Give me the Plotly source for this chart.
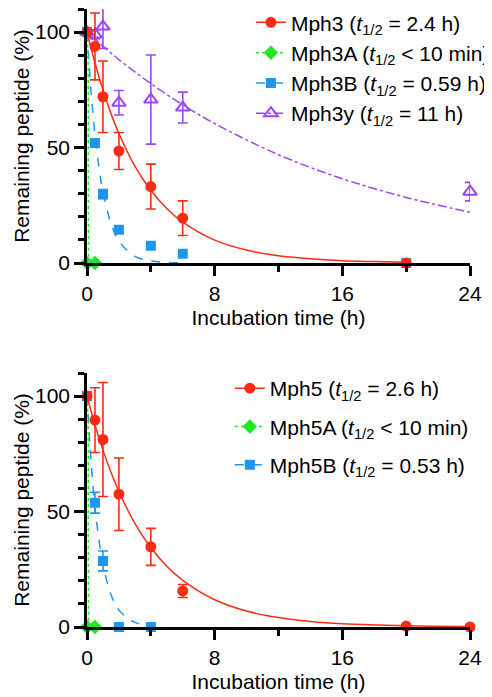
import plotly.graph_objects as go

# ---- top panel (Mph3 family) ----
t3 = [0, 0.5, 1, 2, 4, 6, 20]
mph3 = [100, 93.8, 72, 48.5, 33.1, 19.4, 0]
mph3_err = [0, 14.5, 15.5, 8, 9.7, 7.5, 0]
mph3a_t = [0, 0.5]
mph3a = [0, 0]
mph3b = [100, 52, 29.8, 14.4, 7.5, 4, 0]
mph3b_err = [0, 0, 2, 0, 0, 0, 0]
t3y = [0, 0.5, 1, 2, 4, 6, 24]
mph3y = [100, 99, 102.4, 69.4, 70.8, 67.3, 30.9]
mph3y_err = [1, 2, 9.5, 5.3, 19.3, 6.7, 4]

# fitted curves
fit3_t = [0, 0.5, 1, 1.5, 2, 3, 4, 5, 6, 8, 10, 12, 14, 16, 18, 20]
fit3 = [100, 86.6, 74.9, 64.8, 56.1, 42.0, 31.5, 23.6, 17.7, 9.9, 5.6, 3.1, 1.8, 1.0, 0.6, 0.3]
fit3a_t = [0, 0.06, 0.08, 0.1]
fit3a = [100, 90, 40, 0]
fit3b_t = [0, 0.25, 0.5, 0.75, 1, 1.5, 2, 3, 4, 5, 6]
fit3b = [100, 74.5, 55.6, 41.4, 30.9, 17.2, 9.5, 2.9, 0.9, 0.3, 0.1]
fit3y_t = [0, 2, 4, 6, 8, 12, 16, 20, 24]
fit3y = [100, 88.1, 77.7, 68.5, 60.4, 46.9, 36.5, 28.4, 22.0]

# ---- bottom panel (Mph5 family) ----
t5 = [0, 0.5, 1, 2, 4, 6, 20, 24]
mph5 = [100, 89.6, 81.2, 57.5, 34.7, 15.6, 0.4, 0]
mph5_err = [0, 14, 24.7, 15.7, 8, 2.8, 0, 0]
mph5a_t = [0, 0.5]
mph5a = [0, 0]
t5b = [0, 0.5, 1, 2, 4]
mph5b = [100, 53.8, 28.6, 0, 0]
mph5b_err = [0, 4.5, 4.3, 0, 0]

fit5_t = [0, 0.5, 1, 1.5, 2, 3, 4, 5, 6, 8, 10, 12, 14, 16, 20, 24]
fit5 = [100, 87.5, 76.6, 67.1, 58.7, 44.9, 34.4, 26.3, 20.2, 11.8, 6.9, 4.1, 2.4, 1.4, 0.5, 0.2]
fit5a_t = [0, 0.06, 0.08, 0.1]
fit5a = [100, 90, 40, 0]
fit5b_t = [0, 0.25, 0.5, 0.75, 1, 1.5, 2, 3, 4]
fit5b = [100, 72.1, 52.0, 37.5, 27.1, 14.1, 7.3, 2.0, 0.5]

names_top = ["Mph3 (<i>t</i><sub>1/2</sub> = 2.4 h)",
             "Mph3A (<i>t</i><sub>1/2</sub> < 10 min)",
             "Mph3B (<i>t</i><sub>1/2</sub> = 0.59 h)",
             "Mph3y (<i>t</i><sub>1/2</sub> = 11 h)"]
names_bot = ["Mph5 (<i>t</i><sub>1/2</sub> = 2.6 h)",
             "Mph5A (<i>t</i><sub>1/2</sub> < 10 min)",
             "Mph5B (<i>t</i><sub>1/2</sub> = 0.53 h)"]

RED = "#FF2A14"
GREEN = "#1EE81E"
BLUE = "#1E96F0"
PURPLE = "#9B45F5"

styles = {
    "red": dict(color=RED, dash="solid", symbol="circle", size=9),
    "green": dict(color=GREEN, dash="dot", symbol="diamond", size=9),
    "blue": dict(color=BLUE, dash="dash", symbol="square", size=8),
    "purple": dict(color=PURPLE, dash="dashdot", symbol="triangle-up-open", size=12),
}

fig = go.Figure()


def add_series(x, y, err, fx, fy, st, name, rank, xa, ya, legend, group):
    s = styles[st]
    fig.add_trace(go.Scatter(x=fx, y=fy, mode="lines", xaxis=xa, yaxis=ya,
                             line=dict(color=s["color"], dash=s["dash"], width=1.5, shape="spline"),
                             showlegend=False, hoverinfo="skip"))
    ey = None
    if err is not None:
        ey = dict(type="data", array=err, visible=True, color=s["color"], thickness=1.6, width=5)
    fig.add_trace(go.Scatter(x=x, y=y, mode="markers", xaxis=xa, yaxis=ya, error_y=ey,
                             marker=dict(color=s["color"], symbol=s["symbol"], size=s["size"],
                                         line=dict(color=s["color"], width=2)),
                             cliponaxis=False, showlegend=False))
    # legend entry (marker + fit line style)
    fig.add_trace(go.Scatter(x=[None], y=[None], mode="lines+markers", xaxis=xa, yaxis=ya,
                             name=name, legend=legend, legendgroup=group, legendrank=rank,
                             line=dict(color=s["color"], dash=s["dash"], width=1.5),
                             marker=dict(color=s["color"], symbol=s["symbol"], size=s["size"],
                                         line=dict(color=s["color"], width=2))))


add_series(t3y, mph3y, mph3y_err, fit3y_t, fit3y, "purple", names_top[3], 4, "x", "y", "legend", "t4")
add_series(t3, mph3b, mph3b_err, fit3b_t, fit3b, "blue", names_top[2], 3, "x", "y", "legend", "t3")
add_series(mph3a_t, mph3a, None, fit3a_t, fit3a, "green", names_top[1], 2, "x", "y", "legend", "t2")
add_series(t3, mph3, mph3_err, fit3_t, fit3, "red", names_top[0], 1, "x", "y", "legend", "t1")

add_series(t5b, mph5b, mph5b_err, fit5b_t, fit5b, "blue", names_bot[2], 3, "x2", "y2", "legend2", "b3")
add_series(mph5a_t, mph5a, None, fit5a_t, fit5a, "green", names_bot[1], 2, "x2", "y2", "legend2", "b2")
add_series(t5, mph5, mph5_err, fit5_t, fit5, "red", names_bot[0], 1, "x2", "y2", "legend2", "b1")

FONT = "Liberation Sans, Arial, Helvetica, sans-serif"

xax = dict(range=[0, 24], tickvals=[0, 8, 16, 24], showline=True, linecolor="black", linewidth=2.5,
           ticks="outside", ticklen=10, tickwidth=2.5, tickcolor="black", automargin=False,
           minor=dict(tickvals=[4, 12, 20], ticks="outside", ticklen=6, tickwidth=2.5, tickcolor="black"),
           showgrid=False, zeroline=False, tickfont=dict(size=21, color="black"),
           title=dict(text="Incubation time (h)", font=dict(size=21, color="black"), standoff=7))
yax = dict(range=[0, 110], tickvals=[0, 50, 100], showline=True, linecolor="black", linewidth=2.5,
           ticks="outside", ticklen=10, tickwidth=2.5, tickcolor="black", automargin=False,
           minor=dict(tickvals=[10, 20, 30, 40, 60, 70, 80, 90, 110], ticks="outside", ticklen=6,
                      tickwidth=2.5, tickcolor="black"),
           showgrid=False, zeroline=False, tickfont=dict(size=21, color="black"),
           title=dict(text="Remaining peptide (%)", font=dict(size=21, color="black"), standoff=0))

# the page body adds 8 px, so the figure is 8 px smaller than the window
fig.update_layout(
    width=484, height=689,
    margin=dict(l=79, r=22, t=1, b=70, autoexpand=False),
    paper_bgcolor="white", plot_bgcolor="white",
    font=dict(family=FONT, size=21, color="black"),
    xaxis=dict(xax, anchor="y", domain=[0, 1]),
    yaxis=dict(yax, anchor="x", domain=[0.589, 1]),
    xaxis2=dict(xax, anchor="y2", domain=[0, 1]),
    yaxis2=dict(yax, anchor="x2", domain=[0, 0.411]),
    legend=dict(x=0.428, y=1.011, xanchor="left", yanchor="top", bgcolor="rgba(0,0,0,0)",
                font=dict(size=21), tracegroupgap=0, itemclick=False),
    legend2=dict(x=0.373, y=0.419, xanchor="left", yanchor="top", bgcolor="rgba(0,0,0,0)",
                 font=dict(size=21), tracegroupgap=8, itemclick=False),
    showlegend=True,
)

fig.write_html("out.html")
